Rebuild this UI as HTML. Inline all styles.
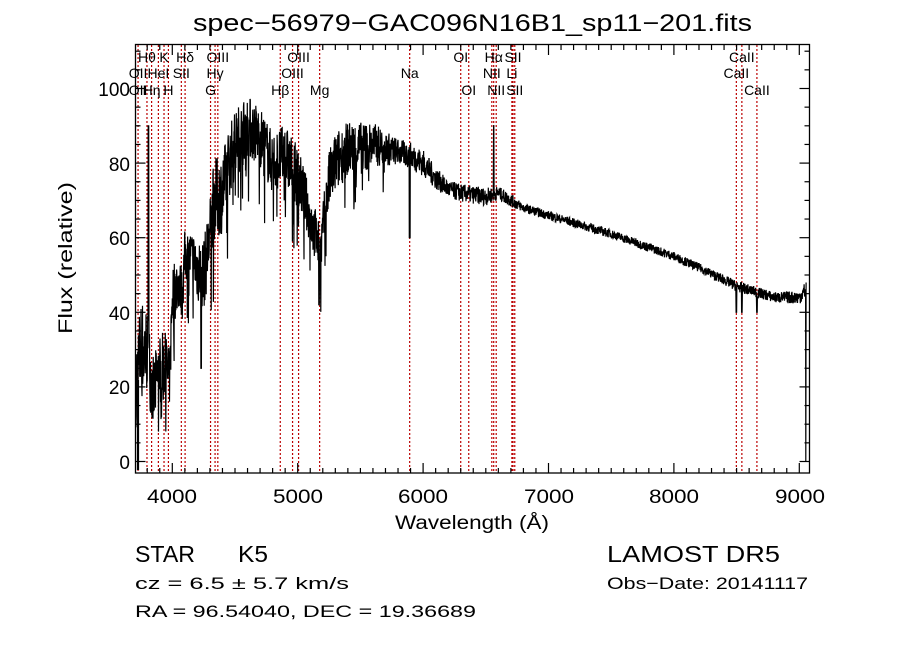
<!DOCTYPE html>
<html><head><meta charset="utf-8"><style>
body{margin:0;background:#fff;width:900px;height:649px;overflow:hidden}
svg{display:block}
text{font-family:"Liberation Sans",sans-serif;fill:#000}
</style></head><body>
<svg id="s" width="900" height="649" xmlns="http://www.w3.org/2000/svg">
<defs><clipPath id="c"><rect x="135.5" y="44.5" width="674" height="428.5"/></clipPath></defs>
<text x="193" y="31" font-size="24" textLength="559" lengthAdjust="spacingAndGlyphs">spec−56979−GAC096N16B1_sp11−201.fits</text>
<g id="lines"></g>
<path id="spec" fill="none" stroke="#000" stroke-width="1.2" clip-path="url(#c)"/>
<rect x="135.5" y="44.5" width="674" height="428.5" fill="none" stroke="#000" stroke-width="1.3"/>
<g id="ticks" stroke="#000" stroke-width="1.2"></g>
<g font-size="19" text-anchor="end">
<text x="130" y="469">0</text><text x="130" y="394">20</text><text x="130" y="320">40</text><text x="130" y="245">60</text><text x="130" y="171">80</text><text x="130" y="96">100</text>
</g>
<g font-size="19">
<text x="147" y="503" textLength="50" lengthAdjust="spacingAndGlyphs">4000</text>
<text x="273" y="503" textLength="50" lengthAdjust="spacingAndGlyphs">5000</text>
<text x="398" y="503" textLength="50" lengthAdjust="spacingAndGlyphs">6000</text>
<text x="524" y="503" textLength="50" lengthAdjust="spacingAndGlyphs">7000</text>
<text x="649" y="503" textLength="50" lengthAdjust="spacingAndGlyphs">8000</text>
<text x="775" y="503" textLength="50" lengthAdjust="spacingAndGlyphs">9000</text>
<text x="395" y="529" textLength="154" lengthAdjust="spacingAndGlyphs">Wavelength (Å)</text>
<text transform="translate(72,334) rotate(-90)" textLength="152" lengthAdjust="spacingAndGlyphs">Flux (relative)</text>
</g>
<g font-size="14" id="labs"></g>
<g font-size="23">
<text x="135" y="562" textLength="60" lengthAdjust="spacingAndGlyphs">STAR</text>
<text x="238" y="562" textLength="30" lengthAdjust="spacingAndGlyphs">K5</text>
<text x="607" y="562" textLength="173" lengthAdjust="spacingAndGlyphs">LAMOST DR5</text>
</g>
<text x="135" y="589" font-size="17" font-family="Liberation Serif,serif" textLength="214" lengthAdjust="spacingAndGlyphs">cz = 6.5 ± 5.7 km/s</text>
<text x="607" y="589" font-size="17" font-family="Liberation Mono,monospace" textLength="201" lengthAdjust="spacingAndGlyphs">Obs−Date: 20141117</text>
<text x="135" y="617" font-size="17" textLength="341" lengthAdjust="spacingAndGlyphs">RA =  96.54040, DEC =  19.36689</text>
</svg>
<script>
var X=function(l){return 172.3+(l-4000)*0.1254;}, Y=function(f){return 461.5-f*3.73;};
var NS="http://www.w3.org/2000/svg";
function el(t,a,p){var e=document.createElementNS(NS,t);for(var k in a)e.setAttribute(k,a[k]);p.appendChild(e);return e;}
var L=[3727,3798,3835,3889,3934,3969,4072,4102,4305,4341,4363,4861,4959,5007,5175,5893,6300,6364,6548,6563,6583,6708,6717,6731,8498,8542,8662];
var lg=document.getElementById('lines');
L.forEach(function(l){var x=X(l);el('line',{x1:x,x2:x,y1:45,y2:473,stroke:'#b00',"stroke-width":1.2,"stroke-dasharray":"2,2"},lg);});
var labs=[["Hθ",3798,62],["K",3934,62],["Hδ",4102,62],["OIII",4363,62],["OIII",5007,62],["OI",6300,62],["Hα",6563,62],["SII",6717,62],["CaII",8542,62],
["OII",3727,78],["HeI",3889,78],["SII",4072,78],["Hγ",4341,78],["OIII",4959,78],["Na",5893,78],["NII",6548,78],["Li",6708,78],["CaII",8498,78],
["OII",3727,95],["Hη",3835,95],["H",3969,95],["G",4305,95],["Hβ",4861,95],["Mg",5175,95],["OI",6364,95],["NII",6583,95],["SII",6731,95],["CaII",8662,95]];
var lb=document.getElementById('labs');
labs.forEach(function(a){var t=el('text',{x:X(a[1]),y:a[2],"text-anchor":"middle"},lb);t.textContent=a[0];});
var tg=document.getElementById('ticks');
for(var l=3800;l<=9000;l+=100){var x=X(l),big=l%1000==0?10:5;el('line',{x1:x,x2:x,y1:473,y2:473-big},tg);el('line',{x1:x,x2:x,y1:45,y2:45+big},tg);}
for(var f=0;f<=110;f+=5){var y=Y(f),big=f%20==0?10:5;el('line',{x1:135.5,x2:135.5+big,y1:y,y2:y},tg);el('line',{x1:809.5,x2:809.5-big,y1:y,y2:y},tg);}
var A=[[3710,20,12],[3750,30,12],[3800,30,10],[3850,18,8],[3900,25,8],[3950,25,8],[3980,22,6],[4000,45,8],[4050,48,6],[4080,45,6],[4100,55,6],[4150,55,6],[4200,52,8],[4250,50,8],[4290,58,8],[4330,70,9],[4400,72,9],[4450,80,8],[4500,85,8],[4600,90,7],[4700,87,7],[4800,80,7],[4900,82,7],[5000,76,7],[5050,72,6],[5100,65,6],[5150,60,6],[5180,55,6],[5200,62,6],[5250,75,7],[5300,80,7],[5400,84,6],[5500,84,6],[5600,85,5],[5700,84,4],[5800,83,3],[5900,82,3],[6000,80,3],[6100,76,2.5],[6200,73,2],[6300,72,2],[6500,71,2],[6600,72,1.5],[6700,70,1.5],[6800,68,1],[7000,66,1],[7500,61,1],[8000,55,1],[8200,52,1],[8500,47,1.2],[8800,44,1.2],[9000,44,1.5],[9050,46,2]];
var seed=7;function r(){seed=(seed*16807)%2147483647;return seed/2147483647;}
function base(l){for(var i=0;i<A.length-1;i++){if(l<=A[i+1][0]){var t=(l-A[i][0])/(A[i+1][0]-A[i][0]);return[A[i][1]+t*(A[i+1][1]-A[i][1]),A[i][2]+t*(A[i+1][2]-A[i][2])];}}return[46,2];}
var d="";
for(var l=3710;l<=9050;l+=2){var b=base(l),u=r()*2-1,f=b[0]+u*b[1]*1.2;
if(l<5700&&r()<0.04)f=b[0]-b[1]*(1.5+r()*1.5);
if(f<8)f=8+r()*4;
if(Math.abs(l-3810)<3)f=90;if(Math.abs(l-5893)<4)f=60;if(Math.abs(l-5170)<4)f=42;if(Math.abs(l-6563)<3)f=90;
if(Math.abs(l-8498)<3||Math.abs(l-8542)<3||Math.abs(l-8662)<3)f=40;if(Math.abs(l-4230)<3)f=25;
d+=(d?"L":"M")+X(l).toFixed(1)+","+Y(f).toFixed(1);}
d+="L"+X(9052).toFixed(1)+","+Y(0)+"L"+X(9054).toFixed(1)+","+Y(48);
d+="M137.5,470L137.5,380M138.5,470L138.5,380";
document.getElementById('spec').setAttribute('d',d);
</script>
</body></html>
